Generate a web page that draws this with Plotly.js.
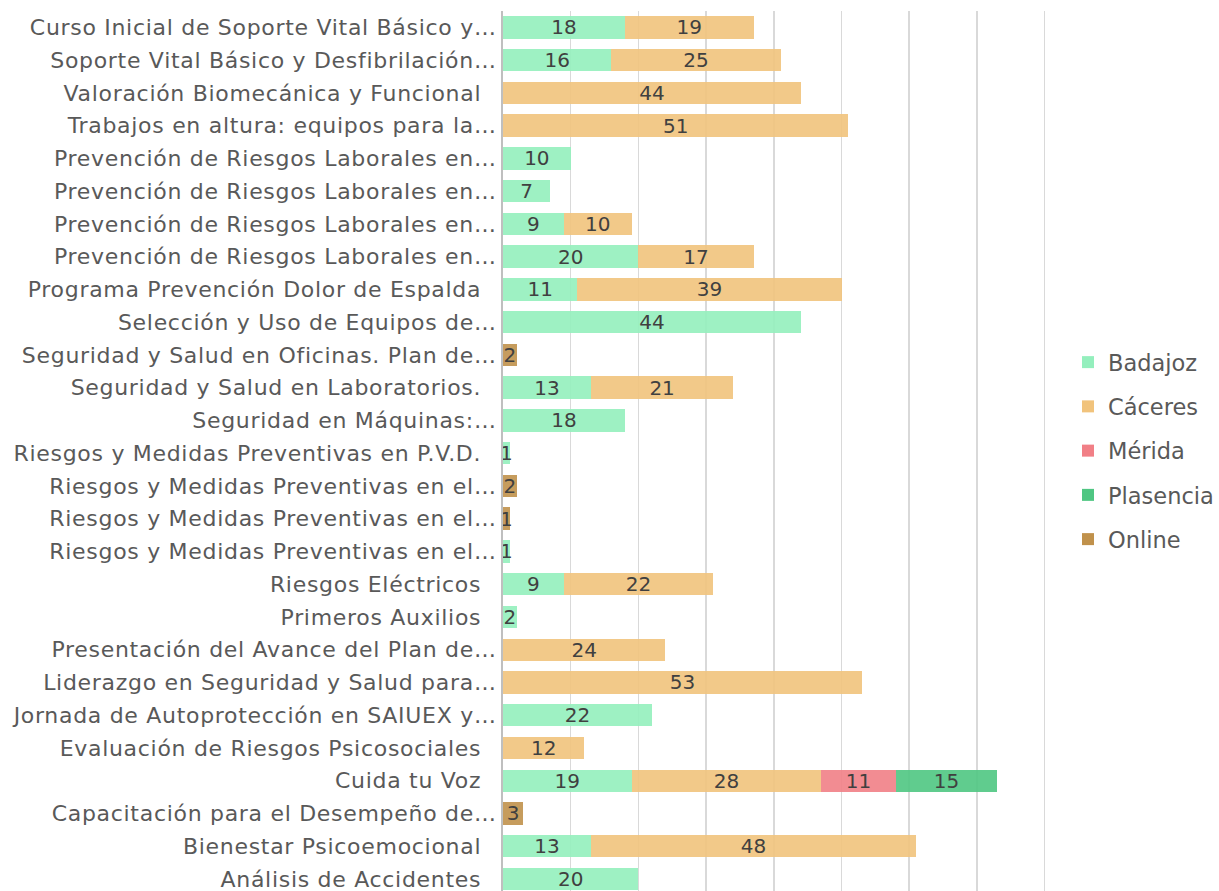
<!DOCTYPE html>
<html>
<head>
<meta charset="utf-8">
<script src="https://cdn.plot.ly/plotly-3.0.1.min.js"></script>
<style>
html,body{margin:0;padding:0;background:#fff;}
#chart{width:1219px;height:891px;}
#chart .ytick text{letter-spacing:0.7px;}
</style>
</head>
<body>
<div id="chart"></div>
<script>
const courses = [
  "Curso Inicial de Soporte Vital Básico y…",
  "Soporte Vital Básico y Desfibrilación…",
  "Valoración Biomecánica y Funcional",
  "Trabajos en altura: equipos para la…",
  "Prevención de Riesgos Laborales en…",
  "Prevención de Riesgos Laborales en…",
  "Prevención de Riesgos Laborales en…",
  "Prevención de Riesgos Laborales en…",
  "Programa Prevención Dolor de Espalda",
  "Selección y Uso de Equipos de…",
  "Seguridad y Salud en Oficinas. Plan de…",
  "Seguridad y Salud en Laboratorios.",
  "Seguridad en Máquinas:…",
  "Riesgos y Medidas Preventivas en P.V.D.",
  "Riesgos y Medidas Preventivas en el…",
  "Riesgos y Medidas Preventivas en el…",
  "Riesgos y Medidas Preventivas en el…",
  "Riesgos Eléctricos",
  "Primeros Auxilios",
  "Presentación del Avance del Plan de…",
  "Liderazgo en Seguridad y Salud para…",
  "Jornada de Autoprotección en SAIUEX y…",
  "Evaluación de Riesgos Psicosociales",
  "Cuida tu Voz",
  "Capacitación para el Desempeño de…",
  "Bienestar Psicoemocional",
  "Análisis de Accidentes"
];
const badajoz   = [18,16,null,null,10,7,9,20,11,44,null,13,18,1,null,null,1,9,2,null,null,22,null,19,null,13,20];
const caceres   = [19,25,44,51,null,null,10,17,39,null,null,21,null,null,null,null,null,22,null,24,53,null,12,28,null,48,null];
const merida    = [null,null,null,null,null,null,null,null,null,null,null,null,null,null,null,null,null,null,null,null,null,null,null,11,null,null,null];
const plasencia = [null,null,null,null,null,null,null,null,null,null,null,null,null,null,null,null,null,null,null,null,null,null,null,15,null,null,null];
const online    = [null,null,null,null,null,null,null,null,null,null,2,null,null,null,2,1,null,null,null,null,null,null,null,null,3,null,null];

const seriesNames = ["Badajoz","Cáceres","Mérida","Plasencia","Online"];
const seriesData = [badajoz, caceres, merida, plasencia, online];
const seriesColors = ["#94efbd","#f1c37c","#f17f86","#4fc682","#c0914b"];

const FONT = "DejaVu Sans, sans-serif";
const idx = courses.map((_, i) => i);
const tickText = courses.map(c => c.endsWith("…") ? c : c + "\u00a0\u00a0");

const traces = seriesNames.map((name, s) => ({
  type: "bar",
  orientation: "h",
  name: name,
  legendgroup: name,
  x: seriesData[s],
  y: idx,
  text: seriesData[s].map(v => v == null ? "" : String(v)),
  textposition: "inside",
  insidetextanchor: "middle",
  textangle: 0,
  constraintext: "none",
  textfont: {family: FONT, size: 20, color: "#404040"},
  marker: {color: seriesColors[s], opacity: 0.9, line: {width: 0}},
  width: 0.68,
  hoverinfo: "x+name"
}));

const layout = {
  width: 1219, height: 891,
  margin: {l: 503, r: 169, t: 11, b: 0, pad: 0},
  paper_bgcolor: "#ffffff",
  plot_bgcolor: "#ffffff",
  barmode: "stack",
  font: {family: FONT, size: 22, color: "#595959"},
  showlegend: true,
  legend: {
    x: 1.037, y: 0.5, xanchor: "left", yanchor: "middle",
    traceorder: "grouped",
    tracegroupgap: 12,
    font: {family: FONT, size: 22.5, color: "#595959"},
    itemwidth: 30,
    bgcolor: "rgba(0,0,0,0)"
  },
  xaxis: {
    range: [0, 80.5],
    dtick: 10, tick0: 0,
    showticklabels: false,
    showgrid: true, gridcolor: "#d9d9d9", gridwidth: 1.5,
    zeroline: false,
    showline: false,
    ticks: ""
  },
  yaxis: {
    range: [26.37, -0.5],
    tickmode: "array",
    tickvals: idx,
    ticktext: tickText,
    ticklabeloverflow: "allow",
    showgrid: false,
    zeroline: false,
    showline: true, linecolor: "#bfbfbf", linewidth: 2,
    ticks: "",
    ticklabelstandoff: 0,
    tickfont: {family: FONT, size: 22, color: "#595959"}
  }
};

Plotly.newPlot("chart", traces, layout, {displayModeBar: false, staticPlot: true});
</script>
</body>
</html>
